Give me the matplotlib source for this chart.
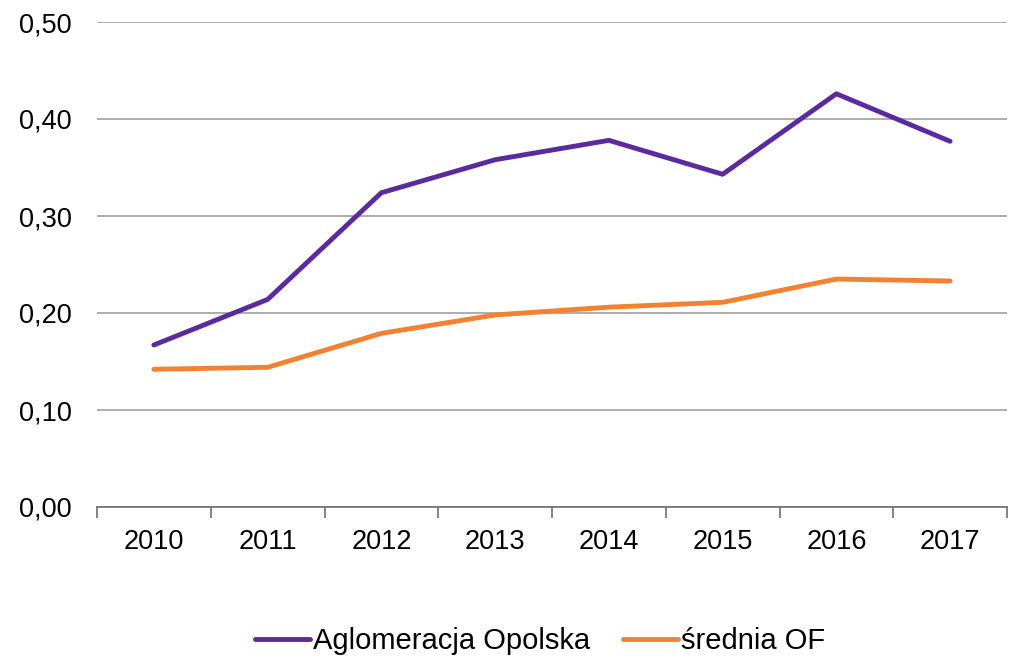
import matplotlib
matplotlib.use("Agg")
import matplotlib.pyplot as plt
from matplotlib.ticker import FixedLocator, FuncFormatter

years = ["2010", "2011", "2012", "2013", "2014", "2015", "2016", "2017"]
aglomeracja = [0.167, 0.214, 0.324, 0.358, 0.378, 0.343, 0.426, 0.377]
srednia = [0.142, 0.144, 0.179, 0.198, 0.206, 0.211, 0.235, 0.233]
yticks = [0.0, 0.1, 0.2, 0.3, 0.4, 0.5]

plt.rcParams['font.family'] = ['Liberation Sans', 'DejaVu Sans']

fig = plt.figure(figsize=(10.13, 6.59), dpi=100)
ax = fig.add_axes([97/1013, 1-507/659, (1007-97)/1013, (507-22)/659])

x = list(range(len(years)))
ax.plot(x, aglomeracja, color='#5B2A9E', lw=3.5, solid_capstyle='round', label='Aglomeracja Opolska')
ax.plot(x, srednia, color='#F08232', lw=3.5, solid_capstyle='round', label='średnia OF')

ax.set_xlim(-0.5, len(years) - 0.5)
ax.set_ylim(0, 0.5)
ax.set_yticks(yticks)
ax.yaxis.set_major_formatter(FuncFormatter(lambda v, p: f"{v:.2f}".replace('.', ',')))
ax.tick_params(axis='y', length=0, pad=18, labelsize=19.5)
ax.grid(axis='y', color='#a0a0a0', lw=1.2)
ax.set_axisbelow(True)

ax.xaxis.set_major_locator(FixedLocator([i - 0.5 for i in range(len(years) + 1)]))
ax.xaxis.set_major_formatter(FuncFormatter(lambda v, p: ''))
ax.xaxis.set_minor_locator(FixedLocator(x))
ax.set_xticklabels(years, minor=True)
ax.tick_params(axis='x', which='major', length=8, width=1.2, color='#6e6e6e', direction='out')
ax.tick_params(axis='x', which='minor', length=0, pad=16, labelsize=19.5)

for s in ['left', 'right', 'top']:
    ax.spines[s].set_visible(False)
ax.spines['bottom'].set_color('#6e6e6e')
ax.spines['bottom'].set_linewidth(1.2)

fig.legend(loc='center', bbox_to_anchor=(540/1013, 1-641/659), ncol=2, frameon=False,
           fontsize=21, handlelength=1.9, columnspacing=1.1, handletextpad=0.1)

fig.savefig('out.png', dpi=100, facecolor='white')
